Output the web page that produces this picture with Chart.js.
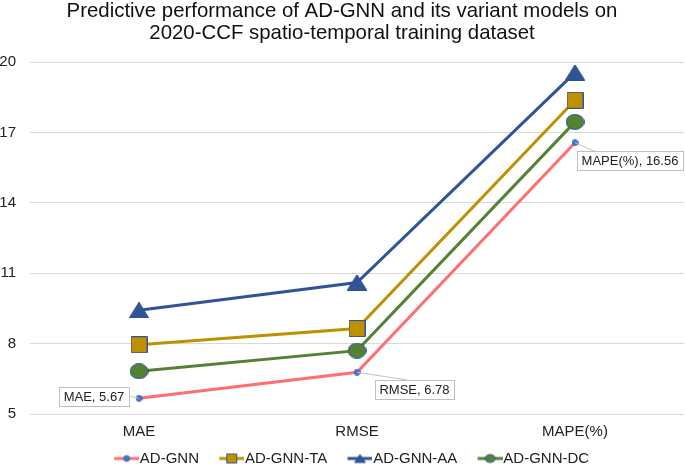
<!DOCTYPE html>
<html>
<head>
<meta charset="utf-8">
<script src="https://cdn.jsdelivr.net/npm/chart.js@4"></script>
<style>
  html, body { margin: 0; padding: 0; background: #fff; overflow: hidden; }
  #wrap { width: 685px; height: 465px; }
</style>
</head>
<body>
<div id="wrap"><canvas id="chart"></canvas></div>
<script>
// chart values
const categories = ["MAE", "RMSE", "MAPE(%)"];
const adGnn = [5.67, 6.78, 16.56];
const adGnnTa = [7.95, 8.64, 18.37];
const adGnnAa = [9.42, 10.6, 19.55];
const adGnnDc = [6.82, 7.7, 17.45];
const yTicks = [5, 8, 11, 14, 17, 20];

const FONT = "'Liberation Sans', Arial, sans-serif";

// marker images (so the ellipse and legend can look like the original)
function markerCanvas(kind, fill, stroke, w, h) {
  const c = document.createElement("canvas");
  c.width = w; c.height = h;
  const g = c.getContext("2d");
  drawMarker(g, kind, w / 2, h / 2, fill, stroke, w, h);
  return c;
}

function drawMarker(g, kind, cx, cy, fill, stroke, w, h) {
  g.fillStyle = fill;
  g.strokeStyle = stroke;
  g.lineWidth = 1;
  g.beginPath();
  if (kind === "square") {
    g.rect(cx - w / 2 + 0.5, cy - h / 2 + 0.5, w - 1, h - 1);
  } else if (kind === "triangle") {
    g.moveTo(cx, cy - h / 2);
    g.lineTo(cx + w / 2, cy + h / 2);
    g.lineTo(cx - w / 2, cy + h / 2);
    g.closePath();
  } else {
    g.ellipse(cx, cy, w / 2 - 0.5, h / 2 - 0.5, 0, 0, Math.PI * 2);
  }
  g.fill();
  if (stroke) g.stroke();
}

// legend swatch: a short line with the marker in the middle, pushed to the right edge
function legendCanvas(kind, line, fill, stroke, mw, mh) {
  const c = document.createElement("canvas");
  c.width = 51; c.height = 14;
  const g = c.getContext("2d");
  g.strokeStyle = line;
  g.lineWidth = 3;
  g.beginPath();
  g.moveTo(26, 7);
  g.lineTo(51, 7);
  g.stroke();
  drawMarker(g, kind, 38.5, 7, fill, stroke, mw, mh);
  return c;
}

const series = [
  { label: "AD-GNN", data: adGnn, line: "#FF6F6F", fill: "#4472C4", stroke: "#4472C4", kind: "circle", mw: 7, mh: 7, lw: 7, lh: 7 },
  { label: "AD-GNN-TA", data: adGnnTa, line: "#BF9000", fill: "#BF9000", stroke: "#2F5597", kind: "square", mw: 17, mh: 17, lw: 11, lh: 10 },
  { label: "AD-GNN-AA", data: adGnnAa, line: "#2F5597", fill: "#2F5597", stroke: "#2F5597", kind: "triangle", mw: 20, mh: 16, lw: 11, lh: 8 },
  { label: "AD-GNN-DC", data: adGnnDc, line: "#548235", fill: "#548235", stroke: "#2F5597", kind: "circle", mw: 19, mh: 16, lw: 11, lh: 9 }
];

// callout labels on the AD-GNN series: [dx, dy] of box center from the point, and leader attach x from box left
const calloutOffsets = [[-45, -2], [57, 17], [55, 18]];
const calloutAttach = [null, 32, 17];

const calloutPlugin = {
  id: "callouts",
  afterDatasetsDraw(chart) {
    const meta = chart.getDatasetMeta(0);
    const ctx = chart.ctx;
    ctx.save();
    ctx.font = "13px " + FONT;
    meta.data.forEach((pt, i) => {
      const text = categories[i] + ", " + adGnn[i].toFixed(2);
      const tw = ctx.measureText(text).width;
      const bw = Math.round(tw + 9), bh = 19;
      const cx = pt.x + calloutOffsets[i][0];
      const cy = pt.y + calloutOffsets[i][1];
      const bx = Math.round(cx - bw / 2), by = Math.round(cy - bh / 2);
      // leader line
      ctx.strokeStyle = "#BFBFBF";
      ctx.lineWidth = 1;
      ctx.beginPath();
      ctx.moveTo(pt.x, pt.y);
      if (calloutAttach[i] === null) {
        ctx.lineTo(bx + bw, cy);
      } else {
        ctx.lineTo(bx + calloutAttach[i], by);
      }
      ctx.stroke();
      ctx.fillStyle = "#fff";
      ctx.fillRect(bx, by, bw, bh);
      ctx.strokeStyle = "#BFBFBF";
      ctx.strokeRect(bx + 0.5, by + 0.5, bw, bh);
      ctx.fillStyle = "#222";
      ctx.textAlign = "center";
      ctx.textBaseline = "middle";
      ctx.fillText(text, bx + bw / 2, by + bh / 2 + 1);
    });
    ctx.restore();
  }
};

new Chart(document.getElementById("chart"), {
  type: "line",
  data: {
    labels: categories,
    datasets: series.map(s => ({
      label: s.label,
      data: s.data,
      borderColor: s.line,
      backgroundColor: s.fill,
      borderWidth: 3,
      pointStyle: markerCanvas(s.kind, s.fill, s.stroke, s.mw, s.mh),
      pointRadius: 8,
      tension: 0
    }))
  },
  options: {
    responsive: true,
    maintainAspectRatio: false,
    animation: false,
    layout: { autoPadding: false, padding: { left: 0, right: 1, top: 0, bottom: -11 } },
    plugins: {
      title: {
        display: true,
        text: ["Predictive performance of AD-GNN and its variant models on", "2020-CCF spatio-temporal training dataset"],
        color: "#111",
        font: { family: FONT, size: 20.4, weight: "normal", lineHeight: 1.08 },
        padding: { top: 0, bottom: 18 }
      },
      legend: {
        position: "bottom",
        labels: {
          usePointStyle: true,
          pointStyleWidth: 37.5,
          color: "#222",
          font: { family: FONT, size: 15 },
          padding: 1,
          generateLabels(chart) {
            return series.map((s, i) => ({
              text: s.label,
              pointStyle: legendCanvas(s.kind, s.line, s.fill, s.stroke, s.lw, s.lh),
              fontColor: "#222",
              datasetIndex: i,
              hidden: false,
              lineWidth: 0
            }));
          }
        }
      },
      tooltip: { enabled: false }
    },
    scales: {
      x: {
        offset: true,
        grid: { display: false, drawTicks: false },
        border: { display: false },
        ticks: { color: "#222", font: { family: FONT, size: 15 }, padding: 9 },
        afterFit(axis) { axis.paddingLeft = 0; axis.paddingRight = 0; }
      },
      y: {
        min: 5,
        max: 20,
        afterBuildTicks(axis) { axis.ticks = yTicks.map(v => ({ value: v })); },
        afterFit(axis) { axis.width = 30; },
        grid: { color: "#D9D9D9", lineWidth: 1, drawTicks: false },
        border: { display: false },
        ticks: { color: "#222", font: { family: FONT, size: 15 }, padding: 14 }
      }
    }
  },
  plugins: [calloutPlugin]
});
</script>
</body>
</html>
